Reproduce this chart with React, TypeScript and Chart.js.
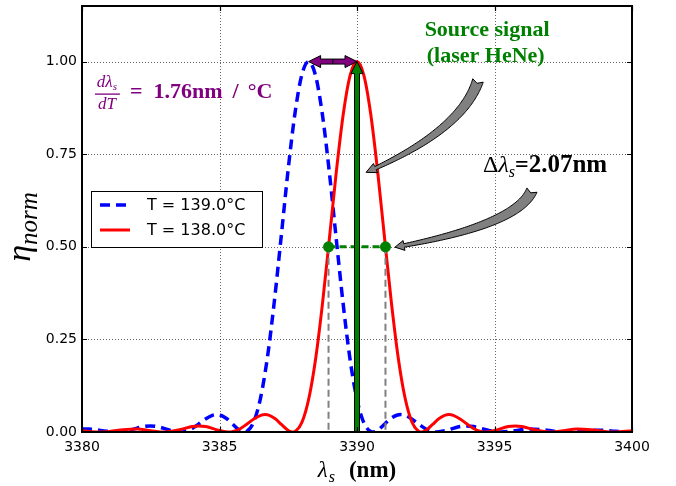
import { useEffect, useRef } from "react";
import { Chart, registerables } from "chart.js";

Chart.register(...registerables);

// ---- data ----
const redX = [3380, 3380.5, 3381, 3381.5, 3382, 3382.5, 3383, 3383.5, 3384, 3384.25, 3384.5, 3385, 3385.33, 3385.5, 3385.75, 3386, 3386.25, 3386.5, 3386.66, 3387, 3387.25, 3387.5, 3387.66, 3387.75, 3388, 3388.25, 3388.5, 3388.75, 3389, 3389.25, 3389.5, 3389.75, 3390, 3390.25, 3390.5, 3390.75, 3391, 3391.25, 3391.5, 3391.75, 3392, 3392.25, 3392.34, 3392.5, 3392.75, 3393, 3393.34, 3393.5, 3393.75, 3394, 3394.25, 3394.5, 3394.67, 3395, 3395.5, 3395.75, 3396, 3396.5, 3397, 3397.5, 3398, 3398.5, 3399, 3399.35, 3400];
const redY = [0.0033, 0.0003, 0.0014, 0.0063, 0.0082, 0.0037, 0, 0.0052, 0.0147, 0.0165, 0.0147, 0.004, 0, 0.0015, 0.0089, 0.0214, 0.0352, 0.0451, 0.047, 0.0372, 0.0203, 0.0042, 0, 0.0015, 0.0265, 0.091, 0.2, 0.35, 0.525, 0.704, 0.858, 0.963, 1, 0.963, 0.858, 0.704, 0.525, 0.35, 0.2, 0.091, 0.0265, 0.0015, 0, 0.0042, 0.0203, 0.0372, 0.047, 0.0451, 0.0352, 0.0214, 0.0089, 0.0015, 0, 0.004, 0.0147, 0.0165, 0.0147, 0.0052, 0, 0.0037, 0.0082, 0.0063, 0.0014, 0, 0.0033];

const blueX = [3380, 3380.24, 3380.74, 3381.24, 3381.74, 3382.24, 3382.49, 3382.74, 3383.24, 3383.57, 3383.74, 3383.99, 3384.24, 3384.49, 3384.74, 3384.9, 3385.24, 3385.49, 3385.74, 3385.9, 3385.99, 3386.24, 3386.49, 3386.74, 3386.99, 3387.24, 3387.49, 3387.74, 3387.99, 3388.24, 3388.49, 3388.74, 3388.99, 3389.24, 3389.49, 3389.74, 3389.99, 3390.24, 3390.49, 3390.58, 3390.74, 3390.99, 3391.24, 3391.58, 3391.74, 3391.99, 3392.24, 3392.49, 3392.74, 3392.91, 3393.24, 3393.74, 3393.99, 3394.24, 3394.74, 3395.24, 3395.74, 3396.24, 3396.74, 3397.24, 3397.59, 3398.24, 3398.74, 3399.24, 3399.74, 3400];
const blueY = [0.0081, 0.0082, 0.0037, 0, 0.0052, 0.0147, 0.0165, 0.0147, 0.004, 0, 0.0015, 0.0089, 0.0214, 0.0352, 0.0451, 0.047, 0.0372, 0.0203, 0.0042, 0, 0.0015, 0.0265, 0.091, 0.2, 0.35, 0.525, 0.704, 0.858, 0.963, 1, 0.963, 0.858, 0.704, 0.525, 0.35, 0.2, 0.091, 0.0265, 0.0015, 0, 0.0042, 0.0203, 0.0372, 0.047, 0.0451, 0.0352, 0.0214, 0.0089, 0.0015, 0, 0.004, 0.0147, 0.0165, 0.0147, 0.0052, 0, 0.0037, 0.0082, 0.0063, 0.0014, 0, 0.0033, 0.005, 0.0029, 0.0002, 0];

const seriesLabels = ["T = 139.0°C", "T = 138.0°C"];
const xTicks = [3380, 3385, 3390, 3395, 3400];
const yTicks = [0, 0.25, 0.5, 0.75, 1.0];
const xMin = 3380;
const xMax = 3400;
const yMin = 0;
const yMax = 1.15;

const sourceLambda = 3390;
const bluePeakLambda = 3388.24;
const peakValue = 1.0;
const halfValue = 0.5;
const halfLeft = 3388.965;
const halfRight = 3391.035;
const shiftText = "1.76nm";
const widthText = "2.07nm";

const SERIF = '"Liberation Serif", "Times New Roman", serif';
const SANS = '"DejaVu Sans", sans-serif';
const GREEN = "#008000";
const PURPLE = "#800080";

type Part = { t: string; f: string; dy?: number; dx?: number };

function drawParts(ctx: CanvasRenderingContext2D, x: number, y: number, parts: Part[], align: "left" | "center") {
  let total = 0;
  for (const p of parts) {
    ctx.font = p.f;
    total += ctx.measureText(p.t).width + (p.dx || 0);
  }
  let cx = align === "center" ? x - total / 2 : x;
  ctx.textAlign = "left";
  ctx.textBaseline = "alphabetic";
  for (const p of parts) {
    ctx.font = p.f;
    cx += p.dx || 0;
    ctx.fillText(p.t, cx, y + (p.dy || 0));
    cx += ctx.measureText(p.t).width;
  }
}

function straightArrow(ctx: CanvasRenderingContext2D, x0: number, y0: number, x1: number, y1: number, w: number, hw: number, hl: number, fill: string) {
  const dx = x1 - x0, dy = y1 - y0;
  const L = Math.hypot(dx, dy);
  const ux = dx / L, uy = dy / L;
  const nx = -uy, ny = ux;
  const bx = x1 - ux * hl, by = y1 - uy * hl;
  ctx.beginPath();
  ctx.moveTo(x0 + (nx * w) / 2, y0 + (ny * w) / 2);
  ctx.lineTo(bx + (nx * w) / 2, by + (ny * w) / 2);
  ctx.lineTo(bx + (nx * hw) / 2, by + (ny * hw) / 2);
  ctx.lineTo(x1, y1);
  ctx.lineTo(bx - (nx * hw) / 2, by - (ny * hw) / 2);
  ctx.lineTo(bx - (nx * w) / 2, by - (ny * w) / 2);
  ctx.lineTo(x0 - (nx * w) / 2, y0 - (ny * w) / 2);
  ctx.closePath();
  ctx.fillStyle = fill;
  ctx.fill();
  ctx.lineWidth = 1;
  ctx.strokeStyle = "#000";
  ctx.lineJoin = "miter";
  ctx.setLineDash([]);
  ctx.stroke();
}

function curvedArrow(
  ctx: CanvasRenderingContext2D,
  p0: [number, number],
  c: [number, number],
  p2: [number, number],
  tailW: number,
  neckW: number,
  headW: number,
  headLen: number,
  fill: string
) {
  const N = 80;
  const pts: [number, number][] = [];
  for (let i = 0; i <= N; i++) {
    const t = i / N;
    const a = (1 - t) * (1 - t), b = 2 * (1 - t) * t, d = t * t;
    pts.push([a * p0[0] + b * c[0] + d * p2[0], a * p0[1] + b * c[1] + d * p2[1]]);
  }
  const cum = [0];
  for (let i = 1; i <= N; i++) cum.push(cum[i - 1] + Math.hypot(pts[i][0] - pts[i - 1][0], pts[i][1] - pts[i - 1][1]));
  const total = cum[N];
  let k = 0;
  while (k < N && cum[k] < total - headLen) k++;
  const left: [number, number][] = [];
  const right: [number, number][] = [];
  for (let i = 0; i <= k; i++) {
    const ia = Math.max(0, i - 1), ib = Math.min(N, i + 1);
    let tx = pts[ib][0] - pts[ia][0], ty = pts[ib][1] - pts[ia][1];
    const tl = Math.hypot(tx, ty);
    tx /= tl; ty /= tl;
    const nx = -ty, ny = tx;
    const w = tailW + (neckW - tailW) * (cum[i] / cum[k]);
    left.push([pts[i][0] + (nx * w) / 2, pts[i][1] + (ny * w) / 2]);
    right.push([pts[i][0] - (nx * w) / 2, pts[i][1] - (ny * w) / 2]);
  }
  const B = pts[k];
  let ux = p2[0] - B[0], uy = p2[1] - B[1];
  const ul = Math.hypot(ux, uy);
  ux /= ul; uy /= ul;
  const nx = -uy, ny = ux;
  let t0x = pts[1][0] - pts[0][0], t0y = pts[1][1] - pts[0][1];
  const t0l = Math.hypot(t0x, t0y);
  t0x /= t0l; t0y /= t0l;
  ctx.beginPath();
  ctx.moveTo(left[0][0], left[0][1]);
  for (let i = 1; i <= k; i++) ctx.lineTo(left[i][0], left[i][1]);
  ctx.lineTo(B[0] + (nx * headW) / 2, B[1] + (ny * headW) / 2);
  ctx.lineTo(p2[0], p2[1]);
  ctx.lineTo(B[0] - (nx * headW) / 2, B[1] - (ny * headW) / 2);
  for (let i = k; i >= 0; i--) ctx.lineTo(right[i][0], right[i][1]);
  ctx.lineTo(pts[0][0] + t0x * 3, pts[0][1] + t0y * 3);
  ctx.closePath();
  ctx.fillStyle = fill;
  ctx.fill();
  ctx.lineWidth = 1;
  ctx.strokeStyle = "#000";
  ctx.setLineDash([]);
  ctx.stroke();
}

const annotPlugin = {
  id: "annot",
  beforeDatasetsDraw(chart: any) {
    const { ctx, chartArea: a, scales } = chart;
    const xs = scales.x, ys = scales.y;
    ctx.save();
    ctx.strokeStyle = "rgba(0,0,0,0.6)";
    ctx.lineWidth = 1;
    ctx.setLineDash([1, 2]);
    for (const v of xTicks) {
      const px = Math.round(xs.getPixelForValue(v)) + 0.5;
      ctx.beginPath();
      ctx.moveTo(px, a.top);
      ctx.lineTo(px, a.bottom);
      ctx.stroke();
    }
    for (const v of yTicks) {
      const py = Math.round(ys.getPixelForValue(v)) + 0.5;
      ctx.beginPath();
      ctx.moveTo(a.left, py);
      ctx.lineTo(a.right, py);
      ctx.stroke();
    }
    ctx.restore();
  },
  afterDraw(chart: any) {
    const { ctx, chartArea: a, scales } = chart;
    const xs = scales.x, ys = scales.y;
    const X = (v: number) => xs.getPixelForValue(v);
    const Y = (v: number) => ys.getPixelForValue(v);
    ctx.save();
    ctx.beginPath();
    ctx.rect(a.left, a.top, a.right - a.left, a.bottom - a.top);
    ctx.clip();

    // grey dashed verticals at half maximum
    ctx.strokeStyle = "#808080";
    ctx.lineWidth = 2;
    ctx.setLineDash([7, 4]);
    for (const v of [halfLeft, halfRight]) {
      ctx.beginPath();
      ctx.moveTo(X(v), Y(halfValue));
      ctx.lineTo(X(v), Y(0));
      ctx.stroke();
    }
    // green dashed horizontal
    ctx.strokeStyle = GREEN;
    ctx.lineWidth = 3;
    ctx.setLineDash([7, 4]);
    ctx.beginPath();
    ctx.moveTo(X(halfLeft), Y(halfValue));
    ctx.lineTo(X(halfRight), Y(halfValue));
    ctx.stroke();
    ctx.setLineDash([]);
    // dots
    ctx.fillStyle = GREEN;
    for (const v of [halfLeft, halfRight]) {
      ctx.beginPath();
      ctx.arc(X(v), Y(halfValue), 5.5, 0, Math.PI * 2);
      ctx.fill();
    }

    // green source arrow
    straightArrow(ctx, X(sourceLambda), Y(0) + 2, X(sourceLambda), Y(peakValue), 5, 12, 12, GREEN);

    // purple double arrow
    const mid = (X(bluePeakLambda) + X(sourceLambda)) / 2;
    straightArrow(ctx, mid, Y(peakValue), X(bluePeakLambda), Y(peakValue), 5, 12, 12, PURPLE);
    straightArrow(ctx, mid, Y(peakValue), X(sourceLambda), Y(peakValue), 5, 12, 12, PURPLE);

    ctx.restore();
    ctx.save();

    // curved grey arrows
    curvedArrow(ctx, [X(3394.4), Y(0.949)], [X(3393.82), Y(0.814)], [X(3390.33), Y(0.701)], 11, 3.5, 10, 11, "#808080");
    curvedArrow(ctx, [X(3396.36), Y(0.653)], [X(3395.85), Y(0.559)], [X(3391.38), Y(0.499)], 11, 3.5, 10, 11, "#808080");

    // text annotations
    ctx.fillStyle = GREEN;
    drawParts(ctx, X(3394.73), Y(1.07), [{ t: "Source signal", f: `bold 22px ${SERIF}` }], "center");
    drawParts(ctx, X(3394.68), Y(1.0), [{ t: "(laser HeNe)", f: `bold 22px ${SERIF}` }], "center");

    ctx.fillStyle = "#000";
    drawParts(ctx, X(3394.58), Y(0.701), [
      { t: "Δ", f: `24px ${SERIF}` },
      { t: "λ", f: `italic 24px ${SERIF}` },
      { t: "s", f: `italic 16px ${SERIF}`, dy: 5 },
      { t: "=", f: `bold 24px ${SERIF}` },
      { t: widthText, f: `bold 25px ${SERIF}` },
    ], "left");

    // d lambda / dT
    ctx.fillStyle = PURPLE;
    const fx = X(3380.47);
    const fb = Y(0.9004);
    drawParts(ctx, fx + 12, fb - 11, [
      { t: "dλ", f: `italic 17px ${SERIF}` },
      { t: "s", f: `italic 11px ${SERIF}`, dy: 3 },
    ], "center");
    ctx.fillRect(fx, fb - 5, 25, 1.3);
    drawParts(ctx, fx + 12, fb + 11, [{ t: "dT", f: `italic 17px ${SERIF}` }], "center");
    drawParts(ctx, fx + 35, fb, [
      { t: "=", f: `bold 22px ${SERIF}` },
      { t: shiftText, f: `bold 22px ${SERIF}`, dx: 11 },
      { t: "/", f: `bold 22px ${SERIF}`, dx: 10 },
      { t: "°C", f: `bold 22px ${SERIF}`, dx: 9 },
    ], "left");

    // frame
    ctx.setLineDash([]);
    ctx.strokeStyle = "#000";
    ctx.lineWidth = 2;
    ctx.strokeRect(a.left, a.top, a.right - a.left, a.bottom - a.top);
    // inward ticks
    ctx.lineWidth = 1.2;
    for (const v of xTicks) {
      const px = Math.round(X(v)) + 0.5;
      ctx.beginPath();
      ctx.moveTo(px, a.bottom);
      ctx.lineTo(px, a.bottom - 5);
      ctx.moveTo(px, a.top);
      ctx.lineTo(px, a.top + 5);
      ctx.stroke();
    }
    for (const v of yTicks) {
      const py = Math.round(Y(v)) + 0.5;
      ctx.beginPath();
      ctx.moveTo(a.left, py);
      ctx.lineTo(a.left + 5, py);
      ctx.moveTo(a.right, py);
      ctx.lineTo(a.right - 5, py);
      ctx.stroke();
    }

    // legend
    const lx = a.left + 9, ly = a.top + 185, lw = 171, lh = 56;
    ctx.fillStyle = "#fff";
    ctx.fillRect(lx, ly, lw, lh);
    ctx.strokeStyle = "#000";
    ctx.lineWidth = 1;
    ctx.strokeRect(lx + 0.5, ly + 0.5, lw, lh);
    ctx.lineWidth = 3.5;
    ctx.strokeStyle = "#0000ff";
    ctx.setLineDash([10, 6]);
    ctx.beginPath();
    ctx.moveTo(lx + 9, ly + 14);
    ctx.lineTo(lx + 39, ly + 14);
    ctx.stroke();
    ctx.setLineDash([]);
    ctx.lineWidth = 3;
    ctx.strokeStyle = "#ff0000";
    ctx.beginPath();
    ctx.moveTo(lx + 9, ly + 39);
    ctx.lineTo(lx + 39, ly + 39);
    ctx.stroke();
    ctx.fillStyle = "#000";
    ctx.font = `16px ${SANS}`;
    ctx.textAlign = "left";
    ctx.textBaseline = "middle";
    ctx.fillText(seriesLabels[0], lx + 56, ly + 15);
    ctx.fillText(seriesLabels[1], lx + 56, ly + 40);

    // x label
    const cx = (a.left + a.right) / 2;
    drawParts(ctx, cx, a.bottom + 45, [
      { t: "λ", f: `italic 23px ${SERIF}` },
      { t: "s", f: `italic 16px ${SERIF}`, dy: 5, dx: 1 },
      { t: "(nm)", f: `bold 23px ${SERIF}`, dx: 14 },
    ], "center");

    // y label
    ctx.save();
    ctx.translate(30, (a.top + a.bottom) / 2 + 8);
    ctx.rotate(-Math.PI / 2);
    drawParts(ctx, 0, 0, [
      { t: "η", f: `italic 34px ${SERIF}` },
      { t: "norm", f: `italic 25px ${SERIF}`, dy: 7 },
    ], "center");
    ctx.restore();

    ctx.restore();
  },
};

export default function App() {
  const ref = useRef<HTMLCanvasElement | null>(null);
  useEffect(() => {
    if (!ref.current) return;
    const chart = new Chart(ref.current, {
      type: "line",
      data: {
        datasets: [
          {
            label: seriesLabels[0],
            data: blueX.map((x, i) => ({ x, y: blueY[i] })),
            borderColor: "#0000ff",
            borderWidth: 3.5,
            borderDash: [10, 6],
            pointRadius: 0,
            fill: false,
            cubicInterpolationMode: "monotone",
            order: 1,
          },
          {
            label: seriesLabels[1],
            data: redX.map((x, i) => ({ x, y: redY[i] })),
            borderColor: "#ff0000",
            borderWidth: 3,
            pointRadius: 0,
            fill: false,
            cubicInterpolationMode: "monotone",
            order: 0,
          },
        ],
      },
      options: {
        animation: false,
        responsive: true,
        maintainAspectRatio: false,
        layout: { padding: { top: 6, right: 44, left: 0, bottom: 0 } },
        plugins: { legend: { display: false }, tooltip: { enabled: false } },
        scales: {
          x: {
            type: "linear",
            min: xMin,
            max: xMax,
            grid: { display: false, drawTicks: false },
            border: { display: false },
            afterBuildTicks: (s: any) => {
              s.ticks = xTicks.map((v) => ({ value: v }));
            },
            afterFit: (s: any) => {
              s.height = 54;
              s.paddingLeft = 0;
              s.paddingRight = 0;
            },
            ticks: {
              font: { family: "DejaVu Sans", size: 14 },
              color: "#000",
              padding: 7,
              maxRotation: 0,
              autoSkip: false,
              callback: (v: any) => String(v),
            },
          },
          y: {
            type: "linear",
            min: yMin,
            max: yMax,
            grid: { display: false, drawTicks: false },
            border: { display: false },
            afterBuildTicks: (s: any) => {
              s.ticks = yTicks.map((v) => ({ value: v }));
            },
            afterFit: (s: any) => {
              s.width = 82;
              s.paddingTop = 0;
              s.paddingBottom = 0;
            },
            ticks: {
              font: { family: "DejaVu Sans", size: 14 },
              color: "#000",
              padding: 5,
              autoSkip: false,
              callback: (v: any) => Number(v).toFixed(2),
            },
          },
        },
      },
      plugins: [annotPlugin],
    } as any);
    return () => chart.destroy();
  }, []);
  return (
    <div style={{ position: "absolute", left: 0, top: 0, width: 676, height: 486, background: "#fff" }}>
      <canvas ref={ref} />
    </div>
  );
}
